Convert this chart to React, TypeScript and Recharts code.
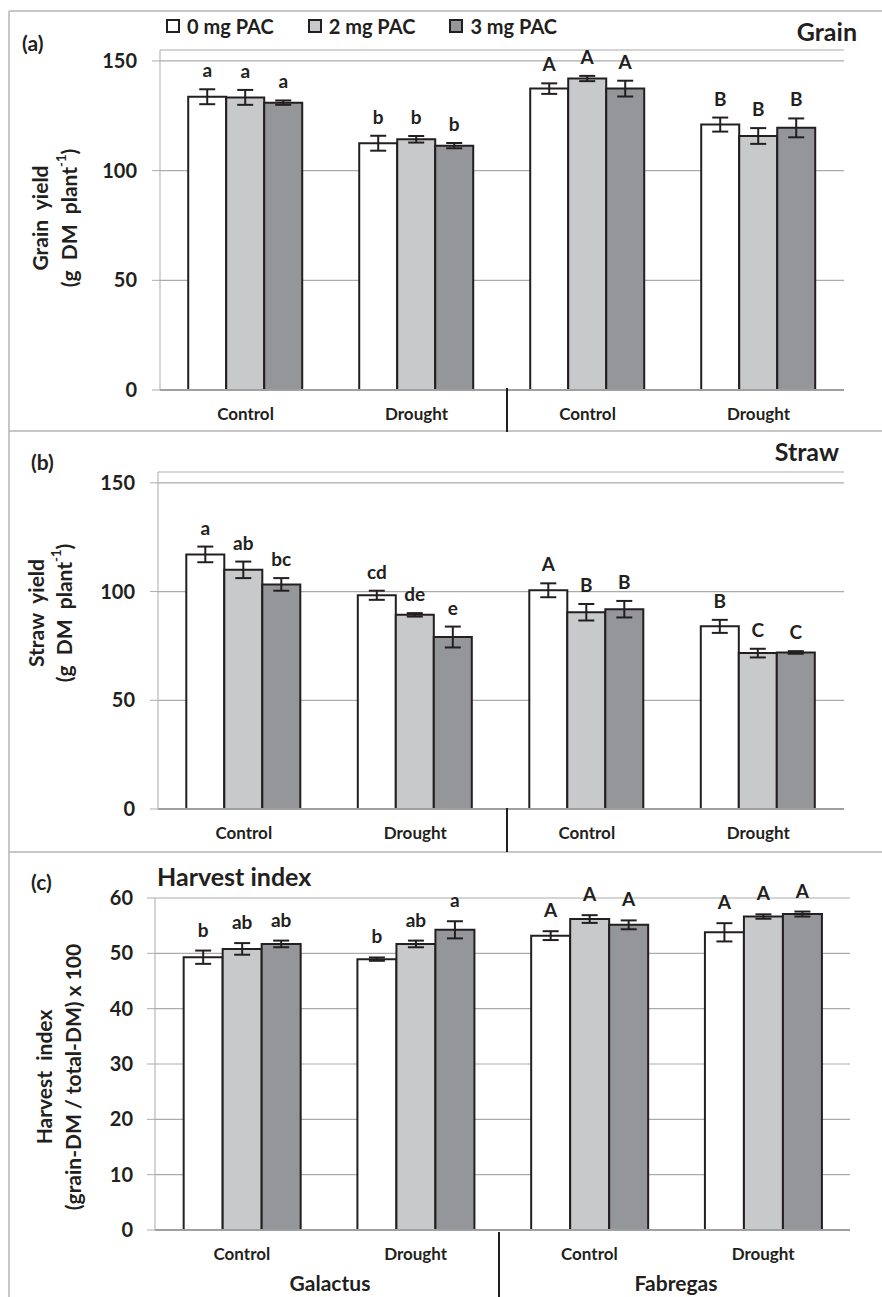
import { BarChart, Bar, XAxis, YAxis, CartesianGrid, ErrorBar, LabelList, Legend } from "recharts"

const FONT = "Lato, 'Open Sans', sans-serif"
const INK = "#231f20"
const GRID = "#ababab"

// treatment x cultivar categories, left to right
const categories = ["Control", "Drought", "Control", "Drought"]
const cultivars = ["Galactus", "Fabregas"]
const doses = ["0 mg PAC", "2 mg PAC", "3 mg PAC"]
const doseFills = ["#ffffff", "#c8c9cb", "#95969a"]

// (a) grain yield, g DM per plant
const grain0 = [133.7, 112.5, 137.4, 121]
const grain2 = [133.4, 114.3, 142, 115.8]
const grain3 = [131, 111.4, 137.4, 119.5]
const grainErr0 = [3.4, 3.4, 2.4, 3.2]
const grainErr2 = [3.4, 1.5, 1.2, 3.6]
const grainErr3 = [1, 1.2, 3.6, 4.3]
const grainLet0 = ["a", "b", "A", "B"]
const grainLet2 = ["a", "b", "A", "B"]
const grainLet3 = ["a", "b", "A", "B"]

// (b) straw yield, g DM per plant
const straw0 = [117.1, 98.3, 100.6, 84]
const straw2 = [110, 89.3, 90.5, 71.7]
const straw3 = [103.3, 79.1, 91.9, 72]
const strawErr0 = [3.6, 2.1, 3.2, 3]
const strawErr2 = [3.8, 0.8, 3.8, 2]
const strawErr3 = [2.9, 4.8, 3.8, 0.6]
const strawLet0 = ["a", "cd", "A", "B"]
const strawLet2 = ["ab", "de", "B", "C"]
const strawLet3 = ["bc", "e", "B", "C"]

// (c) harvest index
const hi0 = [49.3, 48.95, 53.2, 53.8]
const hi2 = [50.8, 51.7, 56.2, 56.65]
const hi3 = [51.7, 54.25, 55.15, 57.1]
const hiErr0 = [1.2, 0.3, 0.8, 1.65]
const hiErr2 = [1.05, 0.6, 0.7, 0.4]
const hiErr3 = [0.6, 1.55, 0.8, 0.45]
const hiLet0 = ["b", "b", "A", "A"]
const hiLet2 = ["ab", "ab", "A", "A"]
const hiLet3 = ["ab", "a", "A", "A"]

type Row = Record<string, number | string>

function buildRows(v: number[][], e: number[][], l: string[][]): Row[] {
    return categories.map((c, i) => ({
        id: i,
        cat: c,
        v0: v[0][i], v1: v[1][i], v2: v[2][i],
        e0: e[0][i], e1: e[1][i], e2: e[2][i],
        l0: l[0][i], l1: l[1][i], l2: l[2][i],
    }))
}

const grainRows = buildRows([grain0, grain2, grain3], [grainErr0, grainErr2, grainErr3], [grainLet0, grainLet2, grainLet3])
const strawRows = buildRows([straw0, straw2, straw3], [strawErr0, strawErr2, strawErr3], [strawLet0, strawLet2, strawLet3])
const hiRows = buildRows([hi0, hi2, hi3], [hiErr0, hiErr2, hiErr3], [hiLet0, hiLet2, hiLet3])

function LegendContent(props: any) {
    const items = props.payload || []
    return (
        <div style={{ display: "flex", gap: 34, fontFamily: FONT, fontWeight: 700, fontSize: 20, color: INK }}>
            {items.map((it: any) => (
                <div key={it.value} style={{ display: "flex", alignItems: "center", gap: 7 }}>
                    <span style={{ width: 10, height: 10, border: `2px solid ${INK}`, background: it.color, display: "inline-block" }} />
                    <span>{it.value}</span>
                </div>
            ))}
        </div>
    )
}

interface PanelProps {
    rows: Row[]
    top: number
    height: number
    marginTop: number
    marginRight: number
    yWidth: number
    xHeight: number
    yMax: number
    ticks: number[]
    tickMargin: number
    letterGap: number
    legend?: boolean
}

function Panel({ rows, top, height, marginTop, marginRight, yWidth, xHeight, yMax, ticks, tickMargin, letterGap, legend }: PanelProps) {
    const plotH = height - marginTop - xHeight
    const pxPerUnit = plotH / yMax

    const letter = (k: number) => (p: any) => {
        const x = Number(p.x), y = Number(p.y), w = Number(p.width)
        const err = Number(rows[p.index]?.[`e${k}`] ?? 0)
        return (
            <text x={x + w / 2} y={y - err * pxPerUnit - letterGap} textAnchor="middle"
                fontFamily={FONT} fontWeight={700} fontSize={19} fill={INK}>
                {p.value}
            </text>
        )
    }

    return (
        <div style={{ position: "absolute", left: 0, top }}>
            <BarChart width={882} height={height} data={rows} barGap={0} barCategoryGap="16.5%"
                margin={{ top: marginTop, right: marginRight, bottom: 0, left: 0 }}>
                <CartesianGrid vertical={false} stroke={GRID} strokeWidth={1.2} />
                <XAxis dataKey="id" tickFormatter={(v) => categories[Number(v)]} height={xHeight}
                    tickLine={false} tickSize={0} tickMargin={18} axisLine={{ stroke: "#a0a0a0", strokeWidth: 2 }}
                    tick={{ fill: INK, fontSize: 17, fontWeight: 700, fontFamily: FONT }} />
                <YAxis domain={[0, yMax]} ticks={ticks} width={yWidth} interval={0}
                    tickSize={8} tickMargin={tickMargin} axisLine={{ stroke: GRID }} tickLine={{ stroke: GRID }}
                    tick={{ fill: INK, fontSize: 20, fontWeight: 700, fontFamily: FONT }} />
                {legend && (
                    <Legend layout="horizontal" verticalAlign="middle" align="center"
                        wrapperStyle={{ top: 3, left: 166, width: "auto" }} content={<LegendContent />} />
                )}
                {doses.map((d, k) => (
                    <Bar key={d} dataKey={`v${k}`} name={d} fill={doseFills[k]} stroke={INK} strokeWidth={2}
                        isAnimationActive={false}>
                        <ErrorBar dataKey={`e${k}`} width={8} strokeWidth={2} stroke={INK} />
                        <LabelList dataKey={`l${k}`} content={letter(k)} />
                    </Bar>
                ))}
            </BarChart>
        </div>
    )
}

function YTitle({ x1, x2, y, line1, line2, size }: { x1: number; x2: number; y: number; line1: string; line2: any; size: number }) {
    const common = { textAnchor: "middle" as const, dominantBaseline: "central" as const, fontFamily: FONT, fontWeight: 700, fontSize: size, fill: INK }
    return (
        <g>
            <text transform={`translate(${x1},${y}) rotate(-90)`} {...common} xmlSpace="preserve">{line1}</text>
            <text transform={`translate(${x2},${y}) rotate(-90)`} {...common} xmlSpace="preserve">{line2}</text>
        </g>
    )
}

function Overlay() {
    const tag = { fontFamily: FONT, fontWeight: 700, fontSize: 21, fill: INK }
    const title = { fontFamily: FONT, fontWeight: 700, fontSize: 25, fill: INK }
    const perPlant = (
        <>
            {"(g  DM  plant"}
            <tspan dy={-7} fontSize={13}>-1</tspan>
            <tspan dy={7}>)</tspan>
        </>
    )
    return (
        <svg width={882} height={1297} style={{ position: "absolute", left: 0, top: 0, pointerEvents: "none" }}>
            {/* panel frame */}
            <line x1={9} y1={11} x2={882} y2={11} stroke="#b4b4b4" strokeWidth={1.5} />
            <line x1={9} y1={431} x2={882} y2={431} stroke="#b4b4b4" strokeWidth={1.5} />
            <line x1={9} y1={852} x2={882} y2={852} stroke="#b4b4b4" strokeWidth={1.5} />
            <line x1={9} y1={11} x2={9} y2={1297} stroke="#b4b4b4" strokeWidth={1.5} />

            {/* cultivar separators */}
            <line x1={507} y1={388} x2={507} y2={432} stroke={INK} strokeWidth={2} />
            <line x1={507} y1={808} x2={507} y2={852} stroke={INK} strokeWidth={2} />
            <line x1={499} y1={1232} x2={499} y2={1297} stroke={INK} strokeWidth={2} />

            <text x={22} y={51} {...tag}>(a)</text>
            <text x={31} y={470} {...tag}>(b)</text>
            <text x={31} y={890} {...tag}>(c)</text>

            <text x={857} y={41} textAnchor="end" {...title}>Grain</text>
            <text x={839} y={461} textAnchor="end" {...title}>Straw</text>
            <text x={157} y={886} {...title}>Harvest index</text>

            <YTitle x1={39} x2={68} y={218} size={21} line1="Grain  yield" line2={perPlant} />
            <YTitle x1={35} x2={63} y={613} size={21} line1="Straw  yield" line2={perPlant} />
            <YTitle x1={43} x2={72} y={1077} size={21} line1="Harvest  index" line2="(grain-DM / total-DM) x 100" />

            <text x={330} y={1291} textAnchor="middle" {...tag}>{cultivars[0]}</text>
            <text x={676} y={1291} textAnchor="middle" {...tag}>{cultivars[1]}</text>
        </svg>
    )
}

export default function App() {
    return (
        <div style={{ position: "absolute", left: 0, top: 0, width: 882, height: 1297, background: "#fff" }}>
            <Panel rows={grainRows} top={11} height={420} marginTop={39} marginRight={38} yWidth={160} xHeight={41}
                yMax={155} ticks={[0, 50, 100, 150]} tickMargin={15} letterGap={12} legend />
            <Panel rows={strawRows} top={431} height={421} marginTop={41} marginRight={38} yWidth={158} xHeight={43}
                yMax={155} ticks={[0, 50, 100, 150]} tickMargin={15} letterGap={12} />
            <Panel rows={hiRows} top={852} height={445} marginTop={46} marginRight={32} yWidth={155} xHeight={67}
                yMax={60} ticks={[0, 10, 20, 30, 40, 50, 60]} tickMargin={14} letterGap={14} />
            <Overlay />
        </div>
    )
}
